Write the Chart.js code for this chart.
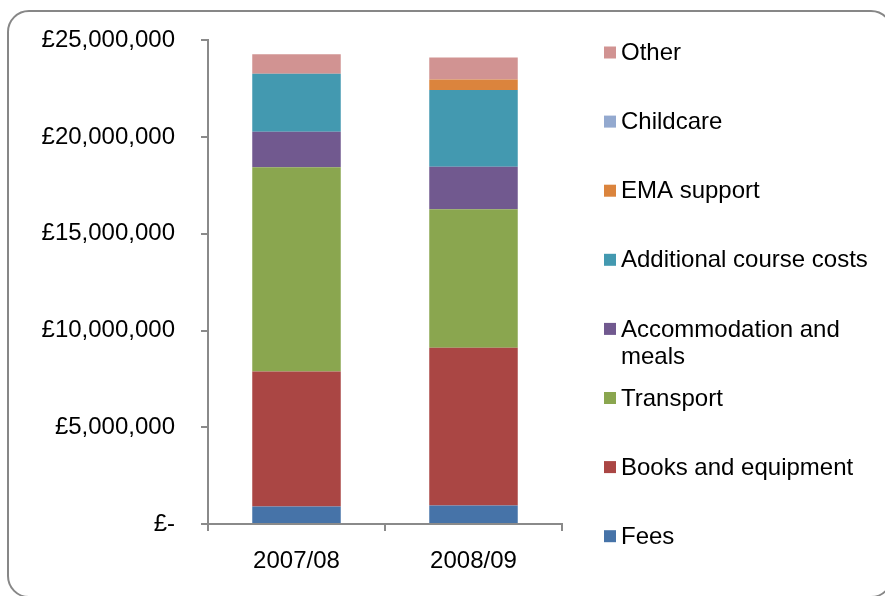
<!DOCTYPE html>
<html>
<head>
<meta charset="utf-8">
<script src="https://cdn.jsdelivr.net/npm/chart.js@4.4.1/dist/chart.umd.min.js"></script>
<style>
  html, body { margin: 0; padding: 0; background: #fff; overflow: hidden; }
  #wrap { position: relative; width: 885px; height: 596px; }
  #frame {
    position: absolute; left: 7px; top: 10px; width: 882px; height: 584px;
    border: 2px solid #878787; border-radius: 22px; pointer-events: none;
  }
</style>
</head>
<body>
<div id="wrap">
  <canvas id="myChart" width="885" height="596"></canvas>
  <div id="frame"></div>
</div>
<script>
// values (GBP)
var categories = ["2007/08", "2008/09"];
var fees = [910000, 950000];
var booksEquipment = [6980000, 8160000];
var transport = [10550000, 7160000];
var accommodationMeals = [1840000, 2200000];
var additionalCourseCosts = [3000000, 3960000];
var emaSupport = [0, 550000];
var childcare = [0, 0];
var other = [1000000, 1130000];

var yTicks = [0, 5000000, 10000000, 15000000, 20000000, 25000000];

var FONT = '"Liberation Sans", Arial, sans-serif';
var AXIS = "#8a8a8a";

function money(v) {
    if (v === 0) return "£-";
    return "£" + String(v).replace(/\B(?=(\d{3})+(?!\d))/g, ",");
}

// legend drawn at the right, top item = last dataset
var sideLegend = {
    id: "sideLegend",
    afterDraw: function (chart) {
        var c = chart.ctx;
        var sets = chart.data.datasets.slice().reverse();
        c.save();
        c.font = "24px " + FONT;
        c.textBaseline = "middle";
        sets.forEach(function (ds, i) {
            var y = 52.5 + 69.1 * i;
            c.fillStyle = ds.backgroundColor;
            c.fillRect(604, y - 6, 12, 12);
            c.fillStyle = "#000";
            // simple word wrap
            var words = ds.label.split(" ");
            var line = "";
            var lines = [];
            words.forEach(function (w) {
                var test = line ? line + " " + w : w;
                if (c.measureText(test).width > 252 && line) {
                    lines.push(line);
                    line = w;
                } else {
                    line = test;
                }
            });
            lines.push(line);
            lines.forEach(function (t, k) {
                c.fillText(t, 621, y + 1 + k * 27);
            });
        });
        c.restore();
    }
};

var ctx = document.getElementById("myChart").getContext("2d");

var myChart = new Chart(ctx, {
    type: "bar",
    data: {
        labels: categories,
        datasets: [
            { label: "Fees", data: fees, backgroundColor: "#4673a8" },
            { label: "Books and equipment", data: booksEquipment, backgroundColor: "#aa4644" },
            { label: "Transport", data: transport, backgroundColor: "#8aa64f" },
            { label: "Accommodation and meals", data: accommodationMeals, backgroundColor: "#71598f" },
            { label: "Additional course costs", data: additionalCourseCosts, backgroundColor: "#4399b0" },
            { label: "EMA support", data: emaSupport, backgroundColor: "#db843d" },
            { label: "Childcare", data: childcare, backgroundColor: "#93a9cf" },
            { label: "Other", data: other, backgroundColor: "#d19392" }
        ]
    },
    options: {
        responsive: false,
        animation: false,
        datasets: {
            bar: { categoryPercentage: 1, barPercentage: 0.5 }
        },
        layout: {
            padding: { left: 0, top: 40, right: 323, bottom: 0 }
        },
        plugins: {
            legend: { display: false },
            tooltip: { enabled: false }
        },
        scales: {
            x: {
                stacked: true,
                offset: true,
                grid: {
                    offset: true,
                    drawOnChartArea: false,
                    drawTicks: true,
                    tickLength: 7,
                    color: AXIS,
                    lineWidth: 2
                },
                border: { display: true, color: AXIS, width: 2 },
                ticks: {
                    color: "#000",
                    padding: 16,
                    font: { family: FONT, size: 24 }
                },
                afterFit: function (scale) { scale.height = 72; }
            },
            y: {
                stacked: true,
                min: 0,
                max: 25000000,
                afterBuildTicks: function (scale) {
                    scale.ticks = yTicks.map(function (v) { return { value: v }; });
                },
                grid: {
                    drawOnChartArea: false,
                    drawTicks: true,
                    tickLength: 7,
                    color: AXIS,
                    lineWidth: 2
                },
                border: { display: true, color: AXIS, width: 2 },
                ticks: {
                    color: "#000",
                    padding: 26,
                    font: { family: FONT, size: 24 },
                    callback: function (v) { return money(v); }
                },
                afterFit: function (scale) { scale.width = 208; }
            }
        }
    },
    plugins: [sideLegend]
});
</script>
</body>
</html>
